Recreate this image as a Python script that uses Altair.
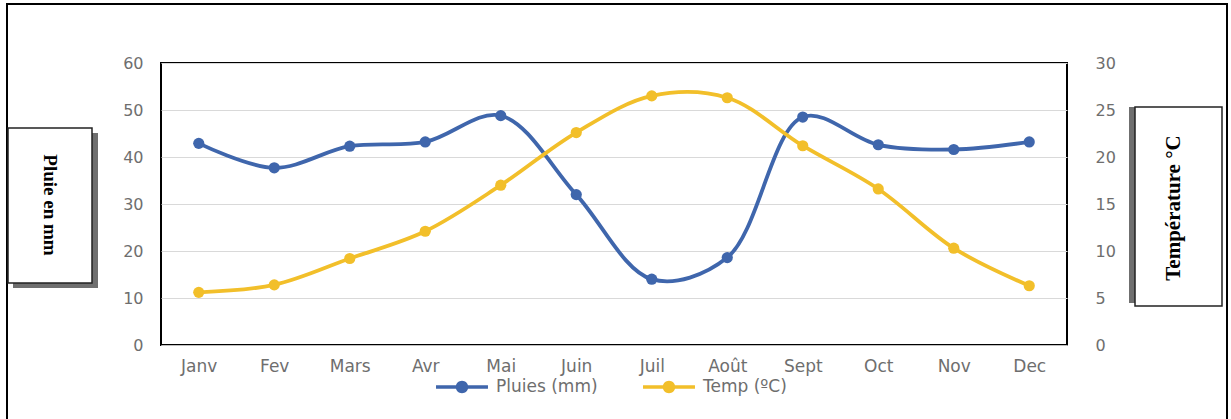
import altair as alt
import pandas as pd

# Monthly climate data
mois = ["Janv", "Fev", "Mars", "Avr", "Mai", "Juin", "Juil", "Août", "Sept", "Oct", "Nov", "Dec"]
pluies_mm = [42.9, 37.7, 42.3, 43.2, 48.8, 32.0, 14.0, 18.6, 48.5, 42.6, 41.6, 43.2]
temp_c = [5.6, 6.4, 9.2, 12.1, 17.0, 22.6, 26.5, 26.3, 21.2, 16.6, 10.3, 6.3]

serie_pluie = "Pluies (mm)"
serie_temp = "Temp (ºC)"

BLUE = "#3f66ac"
YELLOW = "#f2bf2a"
GREY_TXT = "#6e6e6e"
FONT = "DejaVu Sans"

df_pluie = pd.DataFrame({"mois": mois, "valeur": pluies_mm, "serie": serie_pluie})
df_temp = pd.DataFrame({"mois": mois, "valeur": temp_c, "serie": serie_temp})
one = pd.DataFrame({"k": [0]})

W, H = 906, 282

x_enc = alt.X(
    "mois:N",
    sort=mois,
    title=None,
    axis=alt.Axis(
        labelAngle=0, labelFont=FONT, labelFontSize=17, labelColor=GREY_TXT,
        ticks=False, tickSize=0, labelPadding=13, domainColor="#bfbfbf", domainWidth=1,
        grid=False,
    ),
)

# legend glyph: a short line with a dot in the middle
legend_symbol = (
    "M-1,-0.07L1,-0.07L1,0.07L-1,0.07Z "
    "M0,-0.24A0.24,0.24 0 1,1 0,0.24A0.24,0.24 0 1,1 0,-0.24Z"
)

color_scale = alt.Scale(domain=[serie_pluie, serie_temp], range=[BLUE, YELLOW])

color_leg = alt.Color(
    "serie:N",
    scale=color_scale,
    legend=alt.Legend(
        orient="none", legendX=274, legendY=297, direction="horizontal", title=None,
        symbolType=legend_symbol, symbolSize=2700,
        labelFont=FONT, labelFontSize=17, labelColor=GREY_TXT, labelOffset=7,
        columnPadding=44,
    ),
)

y_left = alt.Y(
    "valeur:Q",
    title=None,
    scale=alt.Scale(domain=[0, 60], nice=False),
    axis=alt.Axis(
        orient="left", values=[0, 10, 20, 30, 40, 50, 60], labelFont=FONT, labelFontSize=16,
        labelColor=GREY_TXT, ticks=False, tickSize=0, domain=False, labelPadding=18,
        grid=True, gridColor="#d9d9d9", gridWidth=1,
    ),
)
y_right = alt.Y(
    "valeur:Q",
    title=None,
    scale=alt.Scale(domain=[0, 30], nice=False),
    axis=alt.Axis(
        orient="right", values=[0, 5, 10, 15, 20, 25, 30], labelFont=FONT, labelFontSize=16,
        labelColor=GREY_TXT, ticks=False, tickSize=0, domain=False, labelPadding=28,
        grid=False,
    ),
)

line_kw = dict(interpolate="catmull-rom", strokeWidth=3.8)
pt_kw = dict(filled=True, size=125, opacity=1)

pluie = alt.layer(
    alt.Chart(df_pluie).mark_line(color=BLUE, **line_kw).encode(x=x_enc, y=y_left),
    alt.Chart(df_pluie).mark_point(**pt_kw).encode(x=x_enc, y=y_left, color=color_leg),
)
temp = alt.layer(
    alt.Chart(df_temp).mark_line(color=YELLOW, **line_kw).encode(x=x_enc, y=y_right),
    alt.Chart(df_temp).mark_point(**pt_kw).encode(x=x_enc, y=y_right, color=color_leg),
)

# Outer frame and the two boxed axis titles
deco = alt.Chart(one)
frame = deco.mark_rect(fillOpacity=0, stroke="black", strokeWidth=2).encode(
    x=alt.value(-154), x2=alt.value(1066), y=alt.value(-59), y2=alt.value(420)
)
left_shadow = deco.mark_rect(fill="#6f6f6f").encode(
    x=alt.value(-148), x2=alt.value(-63), y=alt.value(70), y2=alt.value(225)
)
left_box = deco.mark_rect(fill="white", stroke="#222222", strokeWidth=1.5).encode(
    x=alt.value(-153), x2=alt.value(-69), y=alt.value(65), y2=alt.value(220)
)
left_text = deco.mark_text(
    angle=90, font="Liberation Serif", fontSize=19, fontWeight="bold", color="black",
    align="center", baseline="middle",
).encode(x=alt.value(-111), y=alt.value(142), text=alt.value("Pluie en mm"))

right_shadow = deco.mark_rect(fill="#6f6f6f").encode(
    x=alt.value(968), x2=alt.value(1055), y=alt.value(44), y2=alt.value(240)
)
right_box = deco.mark_rect(fill="white", stroke="#222222", strokeWidth=1.5).encode(
    x=alt.value(974), x2=alt.value(1061), y=alt.value(44), y2=alt.value(243)
)
right_text = deco.mark_text(
    angle=270, font="Liberation Serif", fontSize=21, fontWeight="bold", color="black",
    align="center", baseline="middle",
).encode(x=alt.value(1013), y=alt.value(145), text=alt.value("Température °C"))

chart = (
    alt.layer(pluie, temp, frame, left_shadow, left_box, left_text, right_shadow, right_box, right_text)
    .resolve_scale(y="independent")
    .properties(
        width=W, height=H,
        padding={"left": 161, "top": 63, "right": 164, "bottom": 74},
        autosize=alt.AutoSizeParams(type="none"),
        background="white",
    )
    .configure_view(stroke="black", strokeWidth=2)
)

chart.save("out.html", embed_options={"renderer": "svg", "actions": False})
